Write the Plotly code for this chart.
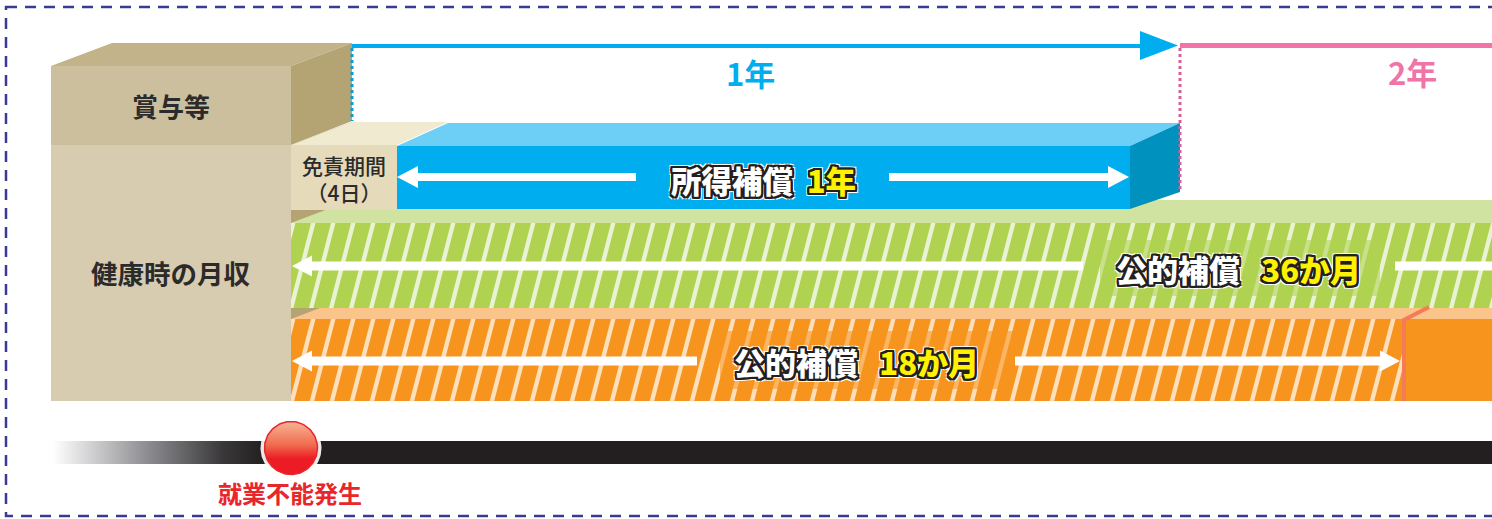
import numpy as np
import plotly.graph_objects as go

W, H = 1492, 519

# ---------------- data ----------------
# left reference block (monthly income while healthy + bonus)
income_labels = ["賞与等", "健康時の月収"]
income_x = [51, 291]
income_y = [66, 145, 401]          # top of bonus, bonus/income split, bottom

# time milestones on the diagram's time axis
milestone_labels = ["就業不能発生", "1年", "2年"]
milestone_x = [291, 1180, 1492]

# coverage bars
bar_names   = ["免責期間", "所得補償", "公的補償", "公的補償"]
bar_periods = ["（4日）", "1年", "36か月", "18か月"]
bar_x0 = [291, 397, 291, 291]
bar_x1 = [397, 1130, 1492, 1404]
bar_y0 = [145, 146, 223, 319]
bar_y1 = [210, 209, 308, 401]

# ---------------- style ----------------
FONT = "Noto Sans CJK JP"
DARK = "#231F20"
C = dict(
    beige_top="#C3B38B", bonus="#CBBF9E", beige_side="#B5A473", income="#D8CCB0",
    deduct_top="#F0EAD0", deduct="#E5DAB9",
    blue_top="#6DCFF6", blue="#00AEEF", blue_side="#0091BE",
    green_top="#D1E3A1", green="#AFD250", green_stripe="#E9F2D2",
    orange_top="#FBC48A", orange="#F7941E", orange_stripe="#FDDFBC",
    salmon="#F47B55", border="#3B3A93", pink="#F074A8", pink_dot="#D4619C",
)

shapes = []


def poly(pts, color, opacity=1.0):
    d = "M " + " L ".join(f"{x},{y}" for x, y in pts) + " Z"
    shapes.append(dict(type="path", path=d, fillcolor=color, line=dict(width=0),
                       xref="x", yref="y", opacity=opacity, layer="above"))


def multipoly(list_of_pts, color):
    d = " ".join("M " + " L ".join(f"{x:.1f},{y:.1f}" for x, y in pts) + " Z" for pts in list_of_pts)
    shapes.append(dict(type="path", path=d, fillcolor=color, line=dict(width=0),
                       xref="x", yref="y", layer="above"))


def line(x0, y0, x1, y1, color, width, dash="solid"):
    shapes.append(dict(type="line", x0=x0, y0=y0, x1=x1, y1=y1, xref="x", yref="y",
                       line=dict(color=color, width=width, dash=dash), layer="above"))


def arrow(x_tail, x_tip, y, shaft=8, head_len=20, head_h=22, color="white"):
    s = 1 if x_tip > x_tail else -1
    xb = x_tip - s * head_len
    pts = [(x_tail, y - shaft / 2), (xb, y - shaft / 2), (xb, y - head_h / 2), (x_tip, y),
           (xb, y + head_h / 2), (xb, y + shaft / 2), (x_tail, y + shaft / 2)]
    poly(pts, color)


def stripes(x0, x1, y0, y1, period=20, width=4.5, slant=0.26):
    dx = (y1 - y0) * slant
    out = []
    x = x0 - dx - period
    while x < x1 + period:
        out.append([(x, y1), (x + width, y1), (x + width + dx, y0), (x + dx, y0)])
        x += period
    return out


DX, DY = 61, 23   # 3D depth offset of the blocks

# beige side faces (drawn first, partially covered)
poly([(income_x[1], income_y[1]), (income_x[1] + DX, income_y[1] - DY),
      (income_x[1] + DX, 380), (income_x[1], income_y[2])], C["beige_side"])

# green bar: top face, front, stripes
gx0, gx1, gy0, gy1 = bar_x0[2], bar_x1[2], bar_y0[2], bar_y1[2]
poly([(gx0, gy0), (gx0 + DX, gy0 - DY), (W + 20, gy0 - DY), (W + 20, gy0)], C["green_top"])
poly([(gx0, gy0), (W + 20, gy0), (W + 20, gy1), (gx0, gy1)], C["green"])
multipoly(stripes(gx0, gx1, gy0, gy1), C["green_stripe"])

# orange bar
ox0, ox1, oy0, oy1 = bar_x0[3], bar_x1[3], bar_y0[3], bar_y1[3]
poly([(ox0, oy0), (ox0 + 29, oy0 - 11), (W + 20, oy0 - 11), (W + 20, oy0)], C["orange_top"])
poly([(ox0, oy0), (W + 20, oy0), (W + 20, oy1), (ox0, oy1)], C["orange"])
multipoly(stripes(ox0, ox1, oy0, oy1), C["orange_stripe"])
# beyond 18 months: plain orange
poly([(ox1, oy0), (W + 20, oy0), (W + 20, oy1), (ox1, oy1)], C["orange"])
shapes.append(dict(type="path", path=f"M {ox1},{oy1} L {ox1},{oy0 + 1} L {ox1 + 25},{oy0 - 12}",
                   line=dict(color=C["salmon"], width=4), xref="x", yref="y", layer="above"))

# label panels (fade stripes behind text)
poly([(1100, 240), (1380, 240), (1380, 296), (1100, 296)], C["green"], 0.55)
poly([(720, 331), (1013, 331), (1013, 389), (720, 389)], C["orange"], 0.55)

# left income block
ix0, ix1 = income_x
poly([(ix0, income_y[0]), (ix0 + DX, income_y[0] - DY), (ix1 + DX, income_y[0] - DY), (ix1, income_y[0])], C["beige_top"])
poly([(ix1, income_y[0]), (ix1 + DX, income_y[0] - DY), (ix1 + DX, income_y[1] - DY - 1), (ix1, income_y[1])], C["beige_side"])
poly([(ix0, income_y[0]), (ix1, income_y[0]), (ix1, income_y[1]), (ix0, income_y[1])], C["bonus"])
poly([(ix0, income_y[1]), (ix1, income_y[1]), (ix1, income_y[2]), (ix0, income_y[2])], C["income"])

# deductible (免責期間) block
dx0, dx1, dy0, dy1 = bar_x0[0], bar_x1[0], bar_y0[0], bar_y1[0]
poly([(dx0, dy0), (dx0 + DX, dy0 - DY), (dx1 + 51, dy0 - DY), (dx1, dy0)], C["deduct_top"])
poly([(dx0, dy0), (dx1, dy0), (dx1, dy1), (dx0, dy1)], C["deduct"])

# income compensation (blue) block
bx0, bx1, by0, by1 = bar_x0[1], bar_x1[1], bar_y0[1], bar_y1[1]
poly([(bx0, by0), (bx0 + 51, by0 - DY), (bx1 + 50, by0 - DY), (bx1, by0)], C["blue_top"])
poly([(bx0, by0), (bx1, by0), (bx1, by1), (bx0, by1)], C["blue"])
poly([(bx1, by0), (bx1 + 50, by0 - DY), (bx1 + 50, by1 - 17), (bx1, by1)], C["blue_side"])

# white arrows inside bars
arrow(636, bx0, 177, 8, 21, 22)
arrow(889, bx1 - 1, 177, 8, 21, 22)
arrow(1083, gx0 + 1, 266, 9, 20, 21)
poly([(1395, 261.5), (W + 20, 261.5), (W + 20, 270.5), (1395, 270.5)], "white")
arrow(697, ox0 + 1, 361, 9, 20, 21)
arrow(1015, ox1 - 4, 361, 9, 20, 21)

# top period arrows
line(ix1 + DX, 46, milestone_x[1] - 38, 46, C["blue"], 4)
poly([(milestone_x[1] - 40, 31), (milestone_x[1] - 2, 45.5), (milestone_x[1] - 40, 60)], C["blue"])
line(milestone_x[1], 45.5, W + 20, 45.5, C["pink"], 5)
line(ix1 + DX, 48, ix1 + DX, 121, "#0D9BD6", 3, "dot")
line(milestone_x[1], 48, milestone_x[1], 192, C["pink_dot"], 3, "dot")

# dashed frame
shapes.append(dict(type="rect", x0=6, y0=7, x1=W + 30, y1=516, xref="x", yref="y",
                   line=dict(color=C["border"], width=2.5, dash="11px,8px"),
                   fillcolor="rgba(0,0,0,0)", layer="above"))

# ---------------- traces (gradient elements) ----------------
fig = go.Figure()
tl_x0, tl_grad_end, tl_y0, tl_y1 = 53, 265, 441, 464
fig.add_trace(go.Scatter(
    x=[tl_x0, tl_grad_end + 1, tl_grad_end + 1, tl_x0, tl_x0],
    y=[tl_y0, tl_y0, tl_y1, tl_y1, tl_y0], mode="lines", fill="toself",
    line=dict(width=0), hoverinfo="skip", showlegend=False,
    fillgradient=dict(type="horizontal", start=tl_x0, stop=tl_grad_end,
                      colorscale=[[0, "#FFFFFF"], [0.45, "#8C8C90"], [0.8, "#3A383A"], [1, DARK]])))
fig.add_trace(go.Scatter(
    x=[tl_grad_end, W + 20, W + 20, tl_grad_end, tl_grad_end],
    y=[tl_y0, tl_y0, tl_y1, tl_y1, tl_y0], mode="lines", fill="toself",
    fillcolor=DARK, line=dict(width=0), hoverinfo="skip", showlegend=False))

cx, cy, r = milestone_x[0], 448, 26.5
t = np.linspace(0, 2 * np.pi, 121)
fig.add_trace(go.Scatter(x=cx + (r + 4) * np.cos(t), y=cy + (r + 4) * np.sin(t), mode="lines",
                         fill="toself", fillcolor="rgba(255,255,255,0.9)", line=dict(width=0),
                         hoverinfo="skip", showlegend=False))
fig.add_trace(go.Scatter(
    x=cx + r * np.cos(t), y=cy + r * np.sin(t), mode="lines", fill="toself",
    line=dict(width=1.5, color="#E8262B"), hoverinfo="skip", showlegend=False,
    fillgradient=dict(type="vertical", start=cy - r, stop=cy + r,
                      colorscale=[[0, "#F8B596"], [0.45, "#F06A4E"], [0.7, "#ED1C24"], [1, "#ED1C24"]])))

# ---------------- annotations ----------------
outline = ", ".join([f"{a}px {b}px 0 {DARK}" for a in (-2, -1, 0, 1, 2) for b in (-2, -1, 0, 1, 2)
                     if (a, b) != (0, 0)] +
                    [f"{a}px {b}px 0 #FFFFFF" for a in (-3, 0, 3) for b in (-3, 0, 3) if (a, b) != (0, 0)])

ann = []


def label(x, y, text, size, color, weight=700, shadow=None):
    f = dict(family=FONT, size=size, color=color, weight=weight)
    if shadow:
        f["shadow"] = shadow
    ann.append(dict(x=x, y=y, xref="x", yref="y", text=text, showarrow=False, font=f,
                    xanchor="center", yanchor="middle"))


label(171, 105, income_labels[0], 26, "#2B2B2B")
label(171, 272, income_labels[1], 26.5, "#2B2B2B")
label(344, 178.5, f"{bar_names[0]}<br>{bar_periods[0]}", 21, "#2B2B2B", 500)
label(750, 72, milestone_labels[1], 31, C["blue"])
label(1412, 71, milestone_labels[2], 31, C["pink"])
label(milestone_x[0] - 1, 492, milestone_labels[0], 24, "#E8262B")

Y = "#FFF200"
label(763, 180, f"{bar_names[1]}&nbsp;&nbsp;<span style='color:{Y}'>{bar_periods[1]}</span>", 30.5, "white", 900, outline)
label(1238, 268, f"{bar_names[2]}&nbsp;&nbsp;&nbsp;<span style='color:{Y}'>{bar_periods[2]}</span>", 31, "white", 900, outline)
label(856, 361, f"{bar_names[3]}&nbsp;&nbsp;&nbsp;<span style='color:{Y}'>{bar_periods[3]}</span>", 31, "white", 900, outline)

fig.update_layout(
    width=W, height=H, margin=dict(l=0, r=0, t=0, b=0),
    paper_bgcolor="white", plot_bgcolor="white",
    xaxis=dict(range=[0, W], visible=False, fixedrange=True),
    yaxis=dict(range=[H, 0], visible=False, fixedrange=True),
    shapes=shapes, annotations=ann, showlegend=False,
)
fig.write_html("out.html")
